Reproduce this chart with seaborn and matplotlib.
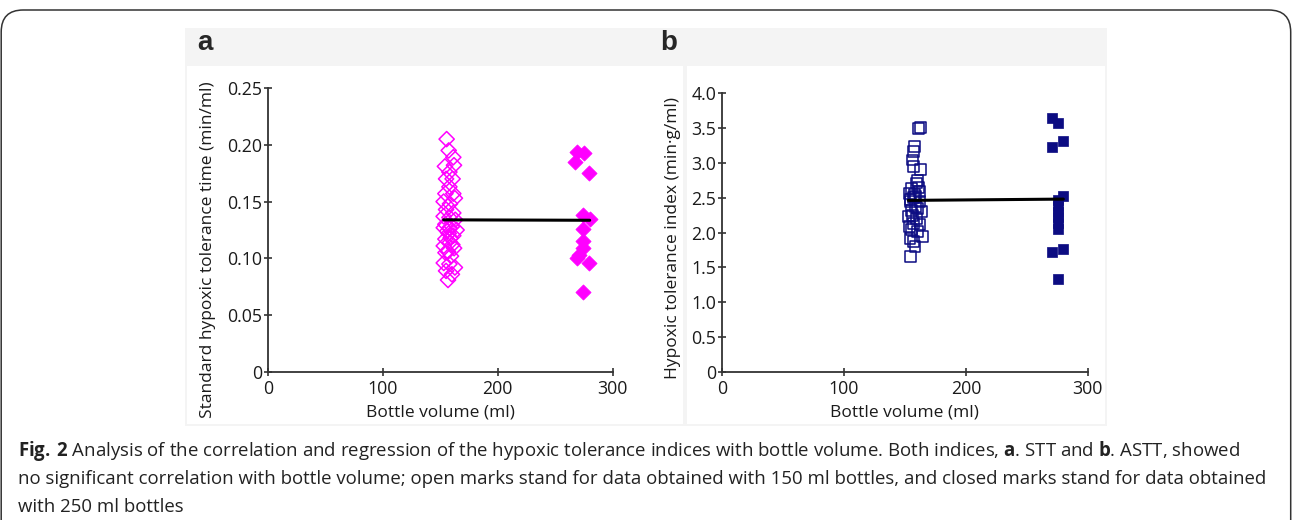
import pandas as pd
import seaborn as sns
import matplotlib.pyplot as plt
from matplotlib.patches import Rectangle, FancyBboxPatch

# Dados (a: STT, b: ASTT)
stt_open_vol = [155.5, 157.3, 161.3, 154.0, 161.9, 157.9, 155.0, 160.7, 157.9, 154.4,
                161.3, 152.9, 158.4, 162.7, 155.0, 161.3, 152.9, 157.9, 163.0, 154.4,
                160.1, 153.0, 164.2, 157.3, 161.3, 154.4, 158.4, 153.0, 162.0, 156.7,
                159.3, 153.0, 157.9, 162.7, 155.0, 160.1, 156.7, 159.0, 156.0, 160.5,
                154.5, 158.0]
stt_open = [0.205, 0.195, 0.189, 0.181, 0.182, 0.176, 0.170, 0.170, 0.163, 0.157,
            0.157, 0.150, 0.148, 0.153, 0.143, 0.140, 0.137, 0.136, 0.134, 0.130,
            0.128, 0.127, 0.125, 0.122, 0.120, 0.117, 0.114, 0.111, 0.109, 0.106,
            0.102, 0.096, 0.095, 0.092, 0.089, 0.086, 0.081, 0.118, 0.124, 0.112,
            0.105, 0.127]
stt_closed_vol = [268.6, 275.0, 267.0, 279.6, 274.5, 280.0, 274.0, 274.5, 274.5, 268.6,
                  271.0, 279.6, 274.5]
stt_closed = [0.194, 0.193, 0.185, 0.175, 0.138, 0.135, 0.126, 0.115, 0.109, 0.100,
              0.103, 0.096, 0.070]

astt_open_vol = [161.0, 163.0, 158.0, 157.0, 156.5, 157.0, 163.0, 160.0, 159.7, 155.6,
                 153.7, 161.8, 157.0, 154.2, 162.4, 159.0, 155.6, 163.8, 152.8, 159.7,
                 157.0, 153.7, 162.4, 155.6, 160.5, 164.6, 154.2, 157.0, 158.3, 154.8,
                 158.0, 160.0, 156.0, 161.0, 155.0, 159.0]
astt_open = [3.49, 3.51, 3.23, 3.16, 3.04, 2.94, 2.91, 2.75, 2.71, 2.63,
             2.56, 2.59, 2.50, 2.47, 2.44, 2.37, 2.32, 2.30, 2.23, 2.20,
             2.13, 2.08, 2.11, 2.04, 2.01, 1.94, 1.92, 1.87, 1.80, 1.65,
             2.55, 2.35, 2.25, 2.65, 2.45, 2.52]
astt_closed_vol = [270.4, 275.4, 270.4, 280.0, 280.0, 275.4, 275.4, 275.4, 275.4, 275.4,
                   275.4, 270.4, 280.0, 275.4]
astt_closed = [3.64, 3.57, 3.22, 3.31, 2.53, 2.47, 2.38, 2.30, 2.22, 2.14,
               2.05, 1.72, 1.76, 1.33]

stt_ticks = [0, 0.05, 0.10, 0.15, 0.20, 0.25]
stt_ticklabels = ["0", "0.05", "0.10", "0.15", "0.20", "0.25"]
astt_ticks = [0, 0.5, 1.0, 1.5, 2.0, 2.5, 3.0, 3.5, 4.0]
astt_ticklabels = ["0", "0.5", "1.0", "1.5", "2.0", "2.5", "3.0", "3.5", "4.0"]

df_a = pd.DataFrame({"volume": stt_open_vol + stt_closed_vol, "valor": stt_open + stt_closed})
df_b = pd.DataFrame({"volume": astt_open_vol + astt_closed_vol, "valor": astt_open + astt_closed})

sns.set_theme(style="ticks")
plt.rcParams["font.family"] = ["Open Sans", "DejaVu Sans"]
plt.rcParams["mathtext.fontset"] = "custom"
plt.rcParams["mathtext.rm"] = "Open Sans"
plt.rcParams["mathtext.bf"] = "Open Sans:bold"

W, H = 1292, 520
fig = plt.figure(figsize=(W / 100, H / 100), dpi=100)


def caixa(x0, y0, x1, y1, cor):
    fig.patches.append(Rectangle((x0 / W, 1 - y1 / H), (x1 - x0) / W, (y1 - y0) / H,
                                 transform=fig.transFigure, facecolor=cor,
                                 edgecolor="none", zorder=-2))


# moldura arredondada
fig.patches.append(FancyBboxPatch((0.012, -0.5), 12.895, 5.6,
                                  boxstyle="round,pad=0,rounding_size=0.22",
                                  transform=fig.dpi_scale_trans, facecolor="none",
                                  edgecolor="#333333", linewidth=1.1, zorder=-3))
caixa(185, 28, 1107, 426, "#f4f4f4")
caixa(187, 66, 683, 424, "white")
caixa(687, 66, 1105, 424, "white")

fig.text(197 / W, 1 - 43 / H, "a", fontsize=20, fontweight="bold",
         family=["Liberation Sans"], va="center", ha="left")
fig.text(660 / W, 1 - 43 / H, "b", fontsize=20, fontweight="bold",
         family=["Liberation Sans"], va="center", ha="left")

ax_a = fig.add_axes([0.2074, 0.2846, 0.2668, 0.5462])
ax_b = fig.add_axes([0.5588, 0.2846, 0.2831, 0.5365])

magenta = "#ff00ff"
navy = "#0c0c82"

sns.scatterplot(x=stt_open_vol, y=stt_open, marker="D", s=60, facecolor="none",
                edgecolor=magenta, linewidth=1.1, ax=ax_a, zorder=3)
sns.scatterplot(x=stt_closed_vol, y=stt_closed, marker="D", s=60, color=magenta,
                edgecolor=magenta, linewidth=0.5, ax=ax_a, zorder=3)
sns.regplot(data=df_a, x="volume", y="valor", scatter=False, ci=None, color="black",
            line_kws={"lw": 2.2, "zorder": 4}, ax=ax_a)

sns.scatterplot(x=astt_open_vol, y=astt_open, marker="s", s=62, facecolor="none",
                edgecolor=navy, linewidth=1.1, ax=ax_b, zorder=3)
sns.scatterplot(x=astt_closed_vol, y=astt_closed, marker="s", s=62, color=navy,
                edgecolor=navy, linewidth=0.5, ax=ax_b, zorder=3)
sns.regplot(data=df_b, x="volume", y="valor", scatter=False, ci=None, color="black",
            line_kws={"lw": 2.2, "zorder": 4}, ax=ax_b)

for ax, ticks, labels, ylim in [(ax_a, stt_ticks, stt_ticklabels, 0.25),
                                (ax_b, astt_ticks, astt_ticklabels, 4.0)]:
    ax.set_facecolor("none")
    ax.set_xlim(0, 300)
    ax.set_ylim(0, ylim)
    ax.set_xticks([0, 100, 200, 300])
    ax.set_xticklabels(["0", "100", "200", "300"])
    ax.set_yticks(ticks)
    ax.set_yticklabels(labels)
    sns.despine(ax=ax)
    for lado in ["left", "bottom"]:
        ax.spines[lado].set_linewidth(1.3)
        ax.spines[lado].set_color("#333333")
    ax.tick_params(axis="both", direction="inout", length=6, width=1.2,
                   color="#333333", labelsize=12.8, labelcolor="#1a1a1a")
    ax.tick_params(axis="y", pad=1)
    ax.tick_params(axis="x", pad=3)
    ax.set_xlabel("Bottle volume (ml)", fontsize=12.5, color="#1a1a1a")

ax_a.set_ylabel("Standard hypoxic tolerance time (min/ml)", fontsize=12.5, color="#1a1a1a")
ax_b.set_ylabel("Hypoxic tolerance index (min·g/ml)", fontsize=12.5, color="#1a1a1a")
ax_a.yaxis.set_label_coords(-0.152, 0.43)
ax_b.yaxis.set_label_coords(-0.113, 0.48)
ax_a.xaxis.set_label_coords(0.5, -0.113)
ax_b.xaxis.set_label_coords(0.5, -0.115)

legenda = [
    r"$\bf{Fig.\,2}$ Analysis of the correlation and regression of the hypoxic tolerance indices with bottle volume. Both indices, $\bf{a}$. STT and $\bf{b}$. ASTT, showed",
    "no significant correlation with bottle volume; open marks stand for data obtained with 150 ml bottles, and closed marks stand for data obtained",
    "with 250 ml bottles",
]
for i, linha in enumerate(legenda):
    fig.text(18 / W, 1 - (451 + 28 * i) / H, linha, fontsize=13.4, color="#222222",
             va="center", ha="left")

fig.savefig("out.png", dpi=100)
